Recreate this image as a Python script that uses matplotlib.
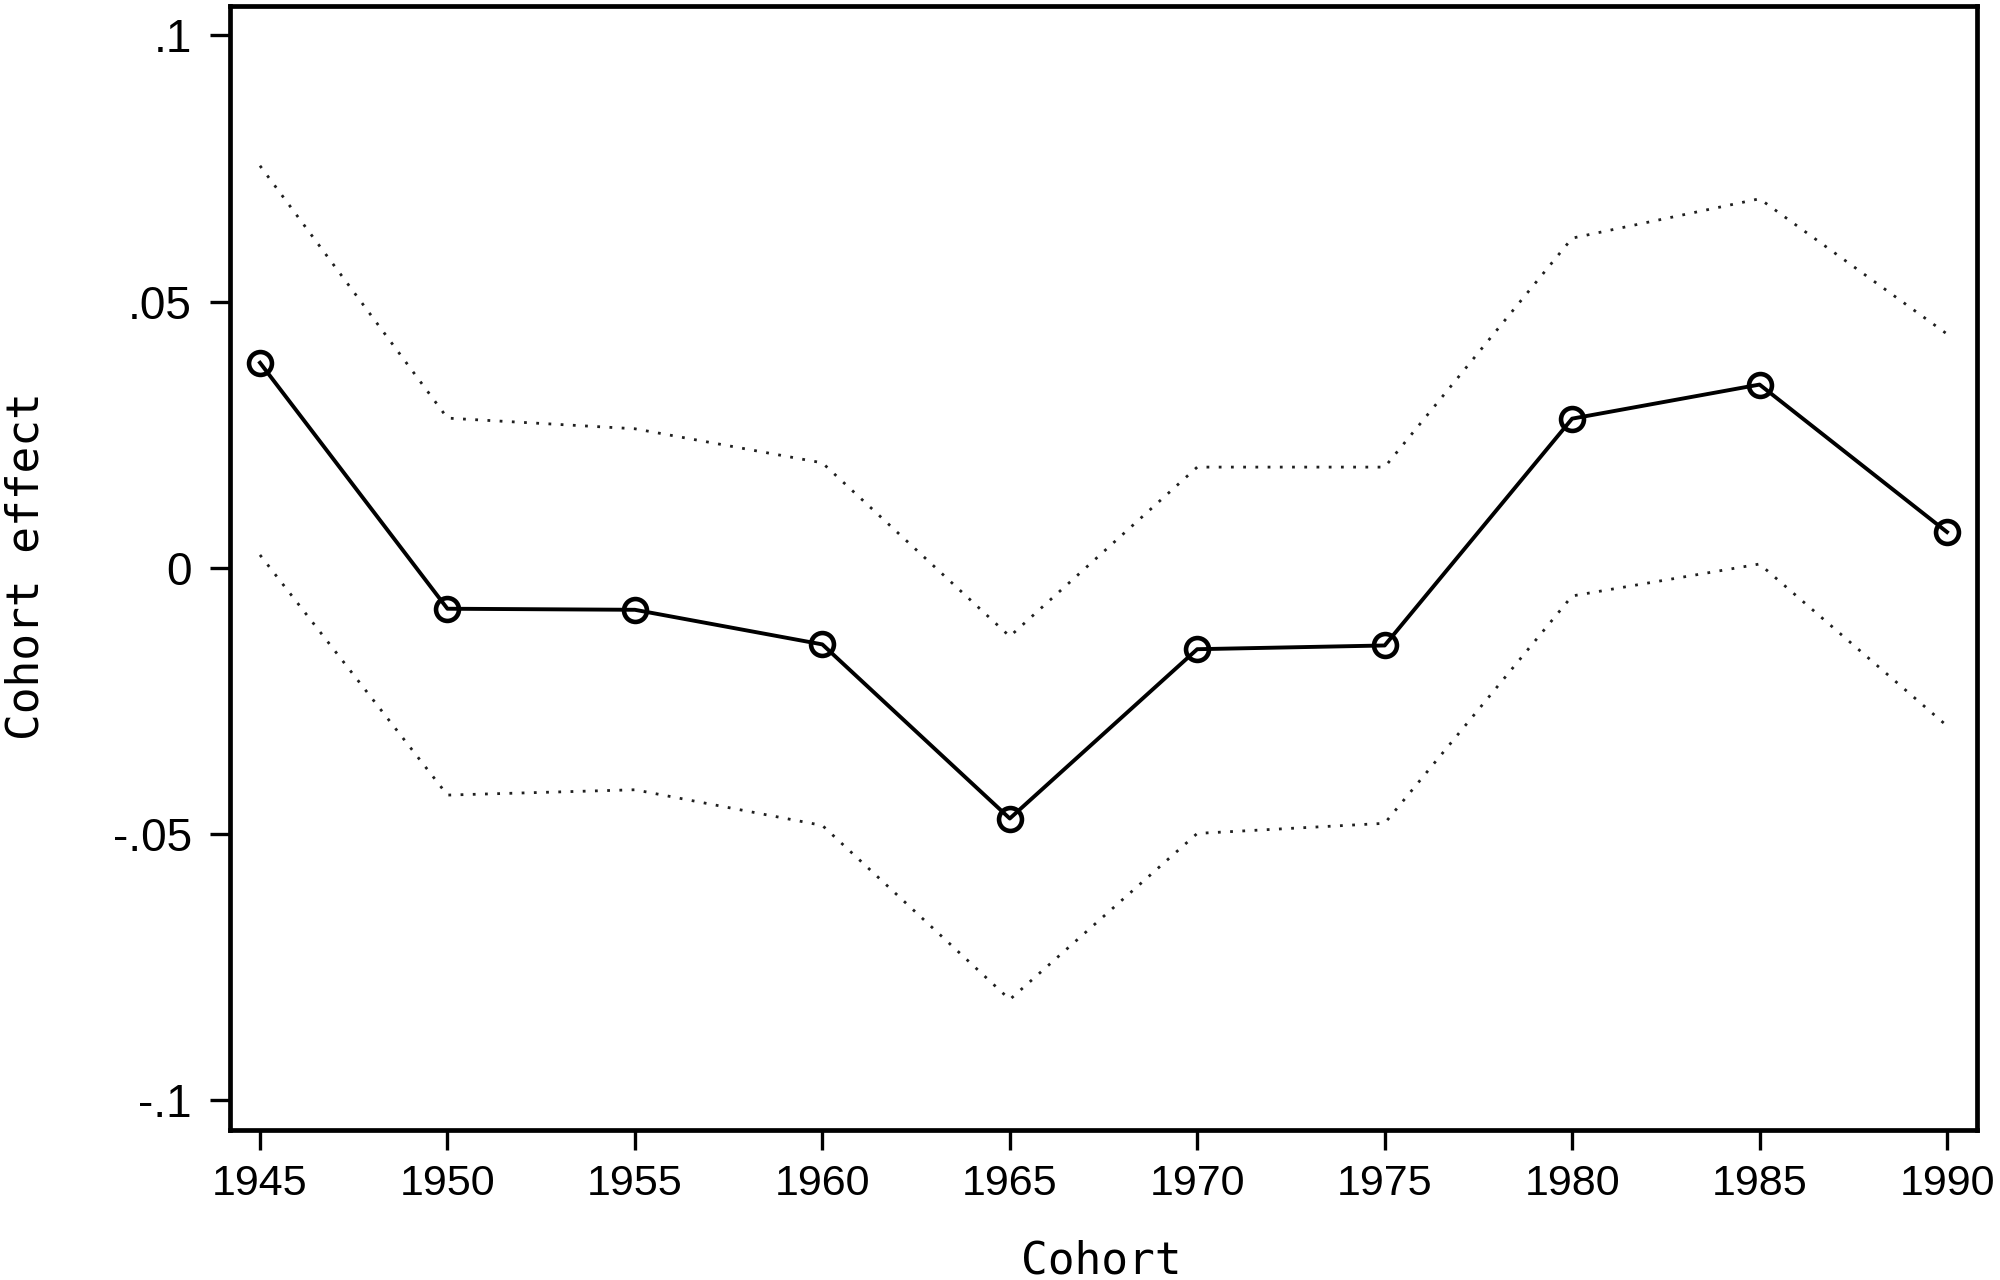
#!/usr/bin/env python3
"""Cohort effect estimates with dotted confidence bounds."""

from __future__ import annotations

from pathlib import Path

import matplotlib

matplotlib.use("Agg")
import matplotlib.pyplot as plt

COHORTS = [1945, 1950, 1955, 1960, 1965, 1970, 1975, 1980, 1985, 1990]
EFFECT = [0.0385, -0.0077, -0.0079, -0.0144, -0.0471, -0.0153, -0.0146, 0.0280, 0.0344, 0.0067]
UPPER = [0.0755, 0.0281, 0.0261, 0.0197, -0.0129, 0.0189, 0.0189, 0.0619, 0.0693, 0.0439]
LOWER = [0.0024, -0.0427, -0.0417, -0.0484, -0.0811, -0.0499, -0.0480, -0.0053, 0.0007, -0.0297]
Y_TICKS = [-0.1, -0.05, 0.0, 0.05, 0.1]
Y_TICK_LABELS = ["-.1", "-.05", "0", ".05", ".1"]

TICK_FONT = ["Liberation Sans", "DejaVu Sans"]
LABEL_FONT = ["DejaVu Sans Mono", "DejaVu Sans"]


def _plot(output: Path) -> None:
    figure = plt.figure(figsize=(20, 12.8), dpi=100)
    axis = figure.add_axes([0.115, 0.1172, 0.8735, 0.8781])

    for bound in (UPPER, LOWER):
        axis.plot(COHORTS, bound, color="#202020", linewidth=2.0,
                  linestyle=(0, (1.0, 3.4)), solid_capstyle="butt",
                  dash_capstyle="butt")
    axis.plot(COHORTS, EFFECT, color="black", linewidth=2.8, marker="o",
              markersize=16.5, markerfacecolor="none", markeredgewidth=3.3,
              markeredgecolor="black")

    axis.set_xlim(1944.2, 1990.8)
    axis.set_ylim(-0.1056, 0.1055)
    axis.set_xticks(COHORTS)
    axis.set_xticklabels([str(year) for year in COHORTS])
    axis.set_yticks(Y_TICKS)
    axis.set_yticklabels(Y_TICK_LABELS)

    for spine in axis.spines.values():
        spine.set_linewidth(3.4)
        spine.set_color("black")
    axis.tick_params(axis="both", direction="out", length=14.4, width=2.4, colors="black")
    axis.tick_params(axis="x", pad=10)
    axis.tick_params(axis="y", pad=13)
    for label in axis.get_xticklabels():
        label.set_fontfamily(TICK_FONT)
        label.set_fontsize(31)
    for label in axis.get_yticklabels():
        label.set_fontfamily(TICK_FONT)
        label.set_fontsize(33)

    axis.set_xlabel("Cohort", fontsize=32, family=LABEL_FONT)
    axis.xaxis.label.set_va("baseline")
    axis.xaxis.set_label_coords(0.4986, -0.128)
    axis.set_ylabel("Cohort effect", fontsize=32, family=LABEL_FONT)
    axis.yaxis.label.set_va("center")
    axis.yaxis.set_label_coords(-0.1165, 0.502)

    figure.savefig(output, dpi=100, facecolor="white")
    plt.close(figure)


def main() -> int:
    _plot(Path("out.png"))
    return 0


if __name__ == "__main__":
    raise SystemExit(main())
